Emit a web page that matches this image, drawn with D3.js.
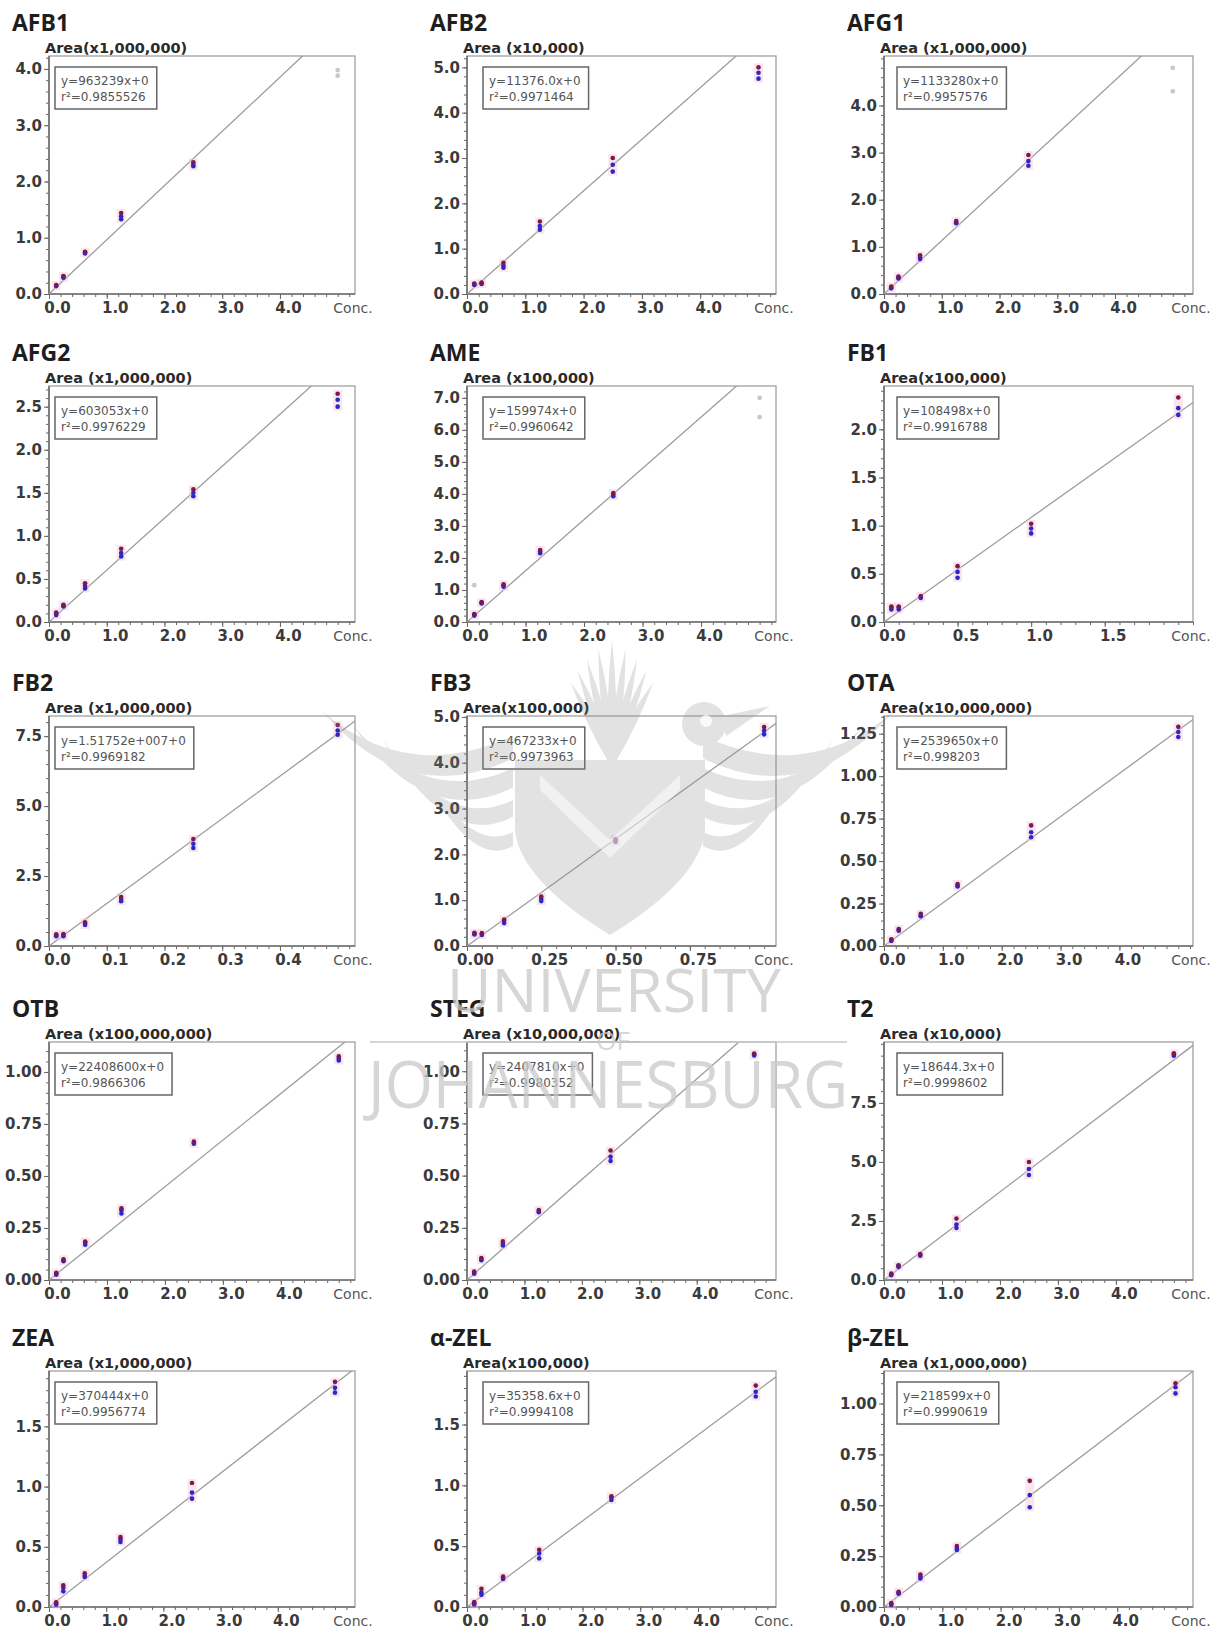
<!DOCTYPE html>
<html>
<head>
<meta charset="utf-8">
<script src="https://cdn.jsdelivr.net/npm/d3@7"></script>
<style>
  body { margin: 0; background: #fff; }
  .tick text { font-family: "DejaVu Sans", sans-serif; font-weight: bold; font-size: 15px; fill: #3a3a3a; }
  .tick line { stroke: #666; }
</style>
</head>
<body>
<script>
// ---- chart values ----
const names = ["AFB1", "AFB2", "AFG1", "AFG2", "AME", "FB1", "FB2", "FB3", "OTA",
               "OTB", "STEG", "T2", "ZEA", "α-ZEL", "β-ZEL"];
const areaLabels = ["Area(x1,000,000)", "Area (x10,000)", "Area (x1,000,000)",
                    "Area (x1,000,000)", "Area (x100,000)", "Area(x100,000)",
                    "Area (x1,000,000)", "Area(x100,000)", "Area(x10,000,000)",
                    "Area (x100,000,000)", "Area (x10,000,000)", "Area (x10,000)",
                    "Area (x1,000,000)", "Area(x100,000)", "Area (x1,000,000)"];
const areaScales = [1e6, 1e4, 1e6, 1e6, 1e5, 1e5, 1e6, 1e5, 1e7, 1e8, 1e7, 1e4, 1e6, 1e5, 1e6];
const equations = ["y=963239x+0", "y=11376.0x+0", "y=1133280x+0", "y=603053x+0", "y=159974x+0",
                   "y=108498x+0", "y=1.51752e+007+0", "y=467233x+0", "y=2539650x+0",
                   "y=22408600x+0", "y=2407810x+0", "y=18644.3x+0", "y=370444x+0",
                   "y=35358.6x+0", "y=218599x+0"];
const slopes = [963239, 11376.0, 1133280, 603053, 159974, 108498, 15175200, 467233, 2539650,
                22408600, 2407810, 18644.3, 370444, 35358.6, 218599];
const r2Values = ["0.9855526", "0.9971464", "0.9957576", "0.9976229", "0.9960642", "0.9916788",
                  "0.9969182", "0.9973963", "0.998203", "0.9866306", "0.9980352", "0.9998602",
                  "0.9956774", "0.9994108", "0.9990619"];

// axis extents (concentration, area in the panel's unit)
const xMaxes = [5.3, 5.3, 5.35, 5.3, 5.28, 2.1, 0.53, 1.04, 5.25, 5.28, 5.38, 5.33, 5.35, 5.35, 5.3];
const yMaxes = [4.23, 5.25, 5.05, 2.74, 7.37, 2.45, 8.22, 5.02, 1.354, 1.144, 1.14, 10.08, 1.96, 1.94, 1.16];

// tick labels
const ticksConc = [0, 1, 2, 3, 4];
const ticksFB1 = [0, 0.5, 1.0, 1.5];
const ticksFB2 = [0, 0.1, 0.2, 0.3, 0.4];
const ticksFB3 = [0, 0.25, 0.5, 0.75];
const xTickValues = [ticksConc, ticksConc, ticksConc, ticksConc, ticksConc, ticksFB1, ticksFB2, ticksFB3,
                     ticksConc, ticksConc, ticksConc, ticksConc, ticksConc, ticksConc, ticksConc];
const xFormats = [".1f", ".1f", ".1f", ".1f", ".1f", ".1f", ".1f", ".2f",
                  ".1f", ".1f", ".1f", ".1f", ".1f", ".1f", ".1f"];
const yTickValues = [[0, 1, 2, 3, 4], [0, 1, 2, 3, 4, 5], [0, 1, 2, 3, 4], [0, 0.5, 1, 1.5, 2, 2.5],
                     [0, 1, 2, 3, 4, 5, 6, 7], [0, 0.5, 1, 1.5, 2], [0, 2.5, 5, 7.5], [0, 1, 2, 3, 4, 5],
                     [0, 0.25, 0.5, 0.75, 1, 1.25], [0, 0.25, 0.5, 0.75, 1], [0, 0.25, 0.5, 0.75, 1],
                     [0, 2.5, 5, 7.5], [0, 0.5, 1, 1.5], [0, 0.5, 1, 1.5], [0, 0.25, 0.5, 0.75, 1]];
const yFormats = [".1f", ".1f", ".1f", ".1f", ".1f", ".1f", ".1f", ".1f",
                  ".2f", ".2f", ".2f", ".1f", ".1f", ".1f", ".2f"];

// calibration levels
const concStd = [0.125, 0.25, 0.625, 1.25, 2.5, 5.0];
const concFB1 = [0.05, 0.1, 0.25, 0.5, 1.0, 2.0];
const concFB2 = [0.0125, 0.025, 0.0625, 0.125, 0.25, 0.5];
const concFB3 = [0.025, 0.05, 0.125, 0.25, 0.5, 1.0];
const concLevels = [concStd, concStd, concStd, concStd, concStd, concFB1, concFB2, concFB3,
                    concStd, concStd, concStd, concStd, concStd, concStd, concStd];

// replicate areas per level (low, mid, high)
const replicateAreas = [
  [[0.14, 0.15, 0.16], [0.29, 0.31, 0.32], [0.72, 0.74, 0.75], [1.33, 1.38, 1.44], [2.27, 2.30, 2.34]],
  [[0.20, 0.22, 0.23], [0.22, 0.24, 0.25], [0.58, 0.63, 0.69], [1.42, 1.50, 1.60], [2.70, 2.85, 3.00], [4.75, 4.88, 5.00]],
  [[0.12, 0.14, 0.16], [0.33, 0.35, 0.37], [0.74, 0.78, 0.82], [1.50, 1.52, 1.55], [2.72, 2.82, 2.95]],
  [[0.08, 0.10, 0.11], [0.18, 0.19, 0.20], [0.39, 0.42, 0.45], [0.76, 0.80, 0.85], [1.46, 1.50, 1.54], [2.50, 2.58, 2.65]],
  [[0.20, 0.23, 0.25], [0.58, 0.60, 0.62], [1.10, 1.15, 1.18], [2.15, 2.20, 2.25], [3.93, 3.98, 4.03]],
  [[0.13, 0.15, 0.16], [0.13, 0.15, 0.16], [0.25, 0.26, 0.27], [0.46, 0.52, 0.58], [0.92, 0.97, 1.02], [2.15, 2.22, 2.33]],
  [[0.35, 0.38, 0.42], [0.35, 0.40, 0.43], [0.75, 0.80, 0.85], [1.60, 1.68, 1.75], [3.50, 3.65, 3.82], [7.55, 7.70, 7.90]],
  [[0.25, 0.27, 0.29], [0.24, 0.26, 0.28], [0.50, 0.55, 0.58], [0.98, 1.03, 1.08], [2.27, 2.30, 2.33], [4.62, 4.70, 4.78]],
  [[0.030, 0.035, 0.040], [0.090, 0.095, 0.100], [0.175, 0.180, 0.190], [0.350, 0.355, 0.365], [0.64, 0.67, 0.71], [1.23, 1.26, 1.29]],
  [[0.025, 0.030, 0.035], [0.090, 0.095, 0.100], [0.170, 0.180, 0.185], [0.320, 0.335, 0.345], [0.655, 0.660, 0.665], [1.055, 1.065, 1.075]],
  [[0.030, 0.035, 0.040], [0.095, 0.100, 0.105], [0.165, 0.175, 0.185], [0.325, 0.330, 0.335], [0.57, 0.59, 0.62], [1.075, 1.080, 1.085]],
  [[0.20, 0.24, 0.27], [0.55, 0.60, 0.62], [1.03, 1.07, 1.10], [2.20, 2.35, 2.60], [4.45, 4.70, 5.00], [9.50, 9.55, 9.60]],
  [[0.02, 0.03, 0.04], [0.13, 0.16, 0.18], [0.25, 0.26, 0.28], [0.54, 0.56, 0.58], [0.90, 0.95, 1.03], [1.78, 1.82, 1.87]],
  [[0.02, 0.03, 0.04], [0.10, 0.12, 0.15], [0.23, 0.24, 0.25], [0.40, 0.44, 0.47], [0.88, 0.90, 0.91], [1.73, 1.77, 1.82]],
  [[0.010, 0.015, 0.020], [0.065, 0.070, 0.075], [0.14, 0.15, 0.16], [0.28, 0.29, 0.30], [0.49, 0.55, 0.62], [1.05, 1.08, 1.10]]
];

// points left out of the fit (grey), [conc, area]
const excludedPoints = [
  [[5.0, 3.88], [5.0, 3.98]], [], [[5.0, 4.30], [5.0, 4.80]], [],
  [[0.125, 1.15], [5.0, 6.40], [5.0, 7.00]], [], [], [], [], [], [], [], [], [], []
];

// ---- layout ----
const Width = 1224;
const Height = 1629;
const colLeft = [49, 467, 884];
const colRight = [355, 776, 1193];
const rowTop = [56, 386, 716, 1042, 1371];
const rowBottom = [294, 622, 946, 1280, 1607];
const boxOffset = [6, 16, 13];

const svg = d3.select('body')
  .append('svg')
    .attr('width', Width)
    .attr('height', Height);

const minorTicks = (ticks, max) => {
  const step = (ticks[1] - ticks[0]) / 5;
  return d3.range(0, max + 1e-9, step);
};

names.forEach((name, i) => {
  const row = Math.floor(i / 3);
  const col = i % 3;
  const L = colLeft[col], R = colRight[col], T = rowTop[row], B = rowBottom[row];

  const x = d3.scaleLinear().domain([0, xMaxes[i]]).range([L, R]);
  const y = d3.scaleLinear().domain([0, yMaxes[i]]).range([B, T]);

  const g = svg.append('g').attr('class', 'panel');

  g.append('clipPath').attr('id', 'clip' + i)
    .append('rect')
      .attr('x', L).attr('y', T)
      .attr('width', R - L).attr('height', B - T);

  // frame
  g.append('rect')
    .attr('x', L).attr('y', T)
    .attr('width', R - L).attr('height', B - T)
    .attr('fill', 'none')
    .attr('stroke', '#a0a0a0')
    .attr('stroke-width', 1.3);

  // minor ticks
  g.append('g')
    .attr('transform', `translate(${L},0)`)
    .call(d3.axisLeft(y).tickValues(minorTicks(yTickValues[i], yMaxes[i])).tickFormat('').tickSize(3))
    .call(a => a.select('.domain').remove());
  g.append('g')
    .attr('transform', `translate(0,${B})`)
    .call(d3.axisBottom(x).tickValues(minorTicks(xTickValues[i], xMaxes[i])).tickFormat('').tickSize(3))
    .call(a => a.select('.domain').remove());

  // major ticks and labels
  g.append('g')
    .attr('transform', `translate(${L},0)`)
    .call(d3.axisLeft(y).tickValues(yTickValues[i]).tickFormat(d3.format(yFormats[i])).tickSize(5).tickPadding(2))
    .call(a => a.select('.domain').remove());
  g.append('g')
    .attr('transform', `translate(0,${B})`)
    .call(d3.axisBottom(x).tickValues(xTickValues[i]).tickFormat(d3.format(xFormats[i])).tickSize(5).tickPadding(3))
    .call(a => a.select('.domain').remove())
    .call(a => a.selectAll('text').attr('dx', 8));

  // axis lines
  g.append('line')
    .attr('x1', L).attr('x2', L).attr('y1', T).attr('y2', B)
    .attr('stroke', '#6f6f6f').attr('stroke-width', 1.6);
  g.append('line')
    .attr('x1', L).attr('x2', R).attr('y1', B).attr('y2', B)
    .attr('stroke', '#6f6f6f').attr('stroke-width', 1.6);

  // regression line
  const k = slopes[i] / areaScales[i];
  g.append('line')
    .attr('clip-path', `url(#clip${i})`)
    .attr('x1', x(0)).attr('y1', y(0))
    .attr('x2', x(xMaxes[i])).attr('y2', y(k * xMaxes[i]))
    .attr('stroke', '#9c9c9c')
    .attr('stroke-width', 1.3);

  // replicate points
  const levels = replicateAreas[i].map((reps, j) => ({ conc: concLevels[i][j], reps }));

  g.selectAll('.halo')
    .data(levels)
    .join('rect')
      .attr('class', 'halo')
      .attr('x', d => x(d.conc) - 4.5)
      .attr('y', d => y(d3.max(d.reps)) - 4)
      .attr('width', 9)
      .attr('height', d => y(d3.min(d.reps)) - y(d3.max(d.reps)) + 8)
      .attr('fill', '#f5c4da')
      .attr('opacity', 0.45);

  const pts = levels.flatMap(d => d.reps.map((v, r) => ({ conc: d.conc, v, r })))
    .sort((a, b) => a.r === 2 ? 1 : b.r === 2 ? -1 : 0);

  g.selectAll('.pt')
    .data(pts)
    .join('circle')
      .attr('class', 'pt')
      .attr('cx', d => x(d.conc))
      .attr('cy', d => y(d.v))
      .attr('r', 2.3)
      .attr('fill', d => d.r === 2 ? '#7a1a4c' : '#2a28c8');

  g.selectAll('.ex')
    .data(excludedPoints[i])
    .join('circle')
      .attr('class', 'ex')
      .attr('cx', d => x(d[0]))
      .attr('cy', d => y(d[1]))
      .attr('r', 2.4)
      .attr('fill', '#c8c8c8');

  // equation box
  const bx = L + boxOffset[col], by = T + 11;
  const boxG = g.append('g');
  const boxRect = boxG.append('rect')
    .attr('x', bx).attr('y', by).attr('height', 42)
    .attr('fill', '#fff')
    .attr('stroke', '#666')
    .attr('stroke-width', 1.5);
  const t1 = boxG.append('text')
    .attr('x', bx + 6).attr('y', by + 18)
    .style('font-family', '"DejaVu Sans", sans-serif')
    .style('font-size', '12px')
    .attr('fill', '#555')
    .text(equations[i]);
  const t2 = boxG.append('text')
    .attr('x', bx + 6).attr('y', by + 34)
    .style('font-family', '"DejaVu Sans", sans-serif')
    .style('font-size', '12px')
    .attr('fill', '#555')
    .text('r²=' + r2Values[i]);
  const tw = Math.max(t1.node().getComputedTextLength(), t2.node().getComputedTextLength());
  boxRect.attr('width', tw + 14);

  // titles
  g.append('text')
    .attr('x', L - 37).attr('y', T - 25)
    .style('font-family', '"Open Sans", sans-serif')
    .style('font-weight', 'bold')
    .style('font-size', '23px')
    .attr('fill', '#1e1e1e')
    .text(name);

  g.append('text')
    .attr('x', L - 4).attr('y', T - 3)
    .style('font-family', '"DejaVu Sans", sans-serif')
    .style('font-weight', 'bold')
    .style('font-size', '14.5px')
    .attr('fill', '#2a2a2a')
    .text(areaLabels[i]);

  g.append('text')
    .attr('x', R - 2).attr('y', B + 19)
    .attr('text-anchor', 'middle')
    .style('font-family', '"DejaVu Sans", sans-serif')
    .style('font-size', '14px')
    .attr('fill', '#555')
    .text('Conc.');
});

// ---- watermark (University of Johannesburg) ----
const wm = svg.append('g')
  .attr('fill', '#8a8a8a')
  .attr('opacity', 0.24)
  .style('pointer-events', 'none');

// crest feathers
d3.range(-4, 5).forEach(j => {
  const a = j * 7 * Math.PI / 180;
  const bx0 = 612, by0 = 760;
  const len = 120 - Math.abs(j) * 8;
  const tx = bx0 + Math.sin(a) * len, ty = by0 - Math.cos(a) * len;
  const nx = Math.cos(a) * 4, ny = Math.sin(a) * 4;
  wm.append('path')
    .attr('d', `M${bx0 - nx},${by0 - ny} Q${(bx0 + tx) / 2 - nx * 1.6},${(by0 + ty) / 2 - ny * 1.6} ${tx},${ty} Q${(bx0 + tx) / 2 + nx * 1.6},${(by0 + ty) / 2 + ny * 1.6} ${bx0 + nx},${by0 + ny}Z`);
});

// wings: layered curved bands on both sides
[-1, 1].forEach(s => {
  d3.range(4).forEach(b => {
    const cx = 608;
    const tipX = cx + s * (285 - b * 30), tipY = 712 + b * 14;
    const rootX = cx + s * 95, rootY = 752 + b * 30;
    const ctlX = cx + s * (200 - b * 20), ctlY = 800 + b * 22;
    const w = 16 - b * 2;
    wm.append('path')
      .attr('d', `M${tipX},${tipY} Q${ctlX},${ctlY - w} ${rootX},${rootY - w} L${rootX},${rootY + w * 0.4} Q${ctlX},${ctlY + w * 0.6} ${tipX},${tipY}Z`);
  });
});

// shield body with book opening
wm.append('path')
  .attr('d', 'M515,760 L705,760 L705,830 Q700,880 610,935 Q520,880 515,830 Z');
svg.append('path')
  .attr('d', 'M540,775 L610,840 L680,775 L680,790 L610,858 L540,790 Z')
  .attr('fill', '#fff').attr('opacity', 0.5);
// head and eye
wm.append('circle').attr('cx', 704).attr('cy', 724).attr('r', 22);
wm.append('path').attr('d', 'M722,716 L770,706 L726,736 Z');
svg.append('circle').attr('cx', 706).attr('cy', 721).attr('r', 6).attr('fill', '#fff').attr('opacity', 0.8);

const wmText = svg.append('g')
  .attr('fill', '#c9c9c9')
  .attr('opacity', 0.75)
  .style('font-family', '"Open Sans", sans-serif')
  .style('pointer-events', 'none');

wmText.append('text')
  .attr('x', 447).attr('y', 1012)
  .attr('textLength', 334).attr('lengthAdjust', 'spacingAndGlyphs')
  .style('font-size', '60px')
  .text('UNIVERSITY');

wmText.append('text')
  .attr('x', 613).attr('y', 1050)
  .attr('text-anchor', 'middle')
  .style('font-size', '26px')
  .text('OF');

wmText.append('text')
  .attr('x', 368).attr('y', 1108)
  .attr('textLength', 480).attr('lengthAdjust', 'spacingAndGlyphs')
  .style('font-size', '66px')
  .text('JOHANNESBURG');

wmText.append('rect').attr('x', 370).attr('y', 1041).attr('width', 218).attr('height', 2);
wmText.append('rect').attr('x', 640).attr('y', 1041).attr('width', 207).attr('height', 2);
</script>
</body>
</html>
